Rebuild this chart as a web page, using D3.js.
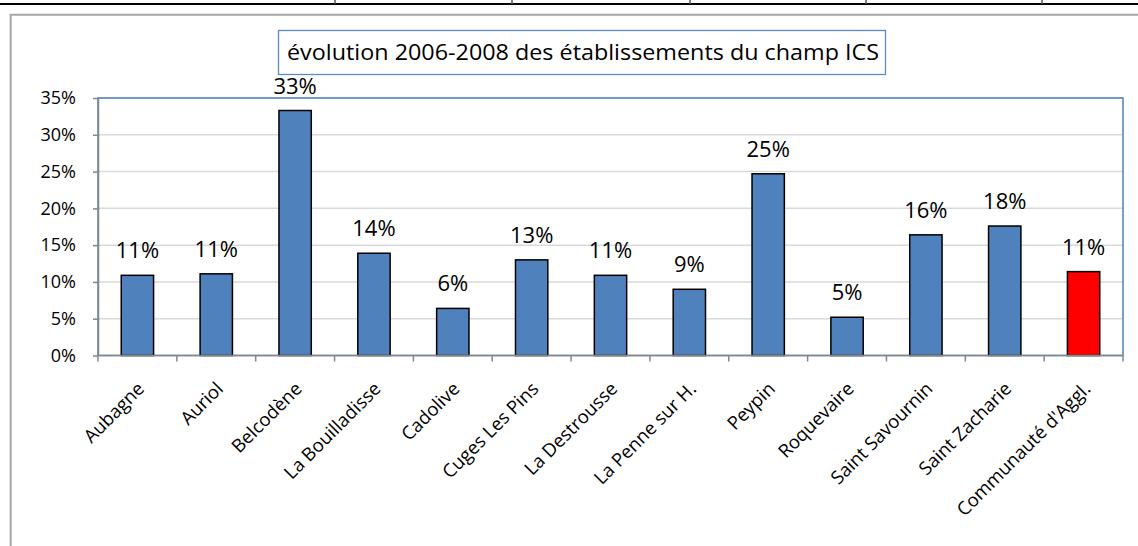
<!DOCTYPE html>
<html>
<head>
<meta charset="utf-8">
<script src="https://cdn.jsdelivr.net/npm/d3@7"></script>
<style>
  body { margin: 0; background: #fff; }
  svg { display: block; font-family: "Open Sans", sans-serif; }
</style>
</head>
<body>
<svg id="drawing_region"></svg>
<script>
// data (percent)
const communes = ["Aubagne", "Auriol", "Belcodène", "La Bouilladisse", "Cadolive", "Cuges Les Pins",
  "La Destrousse", "La Penne sur H.", "Peypin", "Roquevaire", "Saint Savournin", "Saint Zacharie",
  "Communauté d'Aggl."];
const evolution = [10.9, 11.1, 33.3, 13.9, 6.4, 13.0, 10.9, 9.0, 24.7, 5.2, 16.4, 17.6, 11.4];
const yTicks = [0, 5, 10, 15, 20, 25, 30, 35];
const title = "évolution 2006-2008 des établissements du champ ICS";

const config = {
    width: 1138,
    height: 546,
    plot: {left: 98, right: 1123, top: 98, bottom: 355.5}
};

const svg = d3.select('#drawing_region')
    .attr('width', config.width)
    .attr('height', config.height);

// bits of the surrounding table at the top
svg.append('line')
    .attr('x1', 0).attr('x2', config.width)
    .attr('y1', 4).attr('y2', 4)
    .attr('stroke', "#000").attr('stroke-width', 2);
[335, 512, 690, 866, 1042].forEach(x => {
    svg.append('line')
        .attr('x1', x).attr('x2', x)
        .attr('y1', 0).attr('y2', 4)
        .attr('stroke', "#555").attr('stroke-width', 1.5);
});

// chart frame
svg.append('path')
    .attr('d', `M10.7,${config.height} V14.7 H${config.width}`)
    .attr('fill', "none")
    .attr('stroke', "#A6A6A6")
    .attr('stroke-width', 2);

// title box
svg.append('rect')
    .attr('x', 278.5).attr('y', 30.5)
    .attr('width', 607).attr('height', 44)
    .attr('fill', "#fff")
    .attr('stroke', "#5B8AC6")
    .attr('stroke-width', 1.3);
svg.append('text')
    .attr('x', 287).attr('y', 60)
    .style('font-size', "22px")
    .attr('fill', "#000")
    .attr('textLength', 592)
    .attr('lengthAdjust', "spacingAndGlyphs")
    .text(title);

const p = config.plot;

const xscale = d3.scaleBand()
    .domain(communes)
    .range([p.left, p.right]);

const yscale = d3.scaleLinear()
    .domain([0, 35])
    .range([p.bottom, p.top]);

// grid
svg.append('g')
    .selectAll('line')
    .data(yTicks.filter(d => d > 0))
    .join('line')
    .attr('x1', p.left).attr('x2', p.right)
    .attr('y1', d => yscale(d)).attr('y2', d => yscale(d))
    .attr('stroke', "#D9D9D9")
    .attr('stroke-width', 1.5);

// plot area border (blue)
svg.append('rect')
    .attr('x', p.left).attr('y', p.top)
    .attr('width', p.right - p.left)
    .attr('height', p.bottom - p.top)
    .attr('fill', "none")
    .attr('stroke', "#4F81BD")
    .attr('stroke-width', 1.5);

// bars
const barW = xscale.bandwidth() * 0.41;
svg.append('g')
    .selectAll('rect')
    .data(communes)
    .join('rect')
    .attr('x', d => xscale(d) + (xscale.bandwidth() - barW) / 2)
    .attr('y', (d, i) => yscale(evolution[i]))
    .attr('width', barW)
    .attr('height', (d, i) => yscale(0) - yscale(evolution[i]))
    .attr('fill', (d, i) => i === communes.length - 1 ? "#FF0000" : "#4F81BD")
    .attr('stroke', "#000")
    .attr('stroke-width', 1.5);

// data labels
svg.append('g')
    .selectAll('text')
    .data(communes)
    .join('text')
    .attr('x', d => xscale(d) + xscale.bandwidth() / 2)
    .attr('y', (d, i) => yscale(evolution[i]) - 17)
    .attr('text-anchor', "middle")
    .style('font-size', "22px")
    .attr('fill', "#000")
    .text((d, i) => Math.round(evolution[i]) + "%");

// y axis
const yaxis = d3.axisLeft(yscale)
    .tickValues(yTicks)
    .tickFormat(d => d + "%")
    .tickSize(5)
    .tickSizeOuter(0)
    .tickPadding(17);
const yaxis_group = svg.append('g')
    .attr('transform', `translate(${p.left}, 0)`)
    .call(yaxis)
    .attr('font-size', 18)
    .attr('font-family', "Open Sans, sans-serif");
yaxis_group.select('.domain').attr('stroke', "#868686").attr('stroke-width', 1.5);
yaxis_group.selectAll('.tick line').attr('stroke', "#868686").attr('stroke-width', 1.5);
yaxis_group.selectAll('.tick text')
    .style('font-size', "18px")
    .attr('fill', "#000");

// x axis: line, ticks at category edges, rotated labels
const xg = svg.append('g');
xg.append('line')
    .attr('x1', p.left).attr('x2', p.right)
    .attr('y1', p.bottom).attr('y2', p.bottom)
    .attr('stroke', "#868686").attr('stroke-width', 1.5);
xg.selectAll('line.tick')
    .data(communes.map(d => xscale(d)).concat([p.right]))
    .join('line')
    .attr('class', "tick")
    .attr('x1', d => d).attr('x2', d => d)
    .attr('y1', p.bottom).attr('y2', p.bottom + 6)
    .attr('stroke', "#868686").attr('stroke-width', 1.5);
xg.selectAll('text')
    .data(communes)
    .join('text')
    .attr('transform', d => `translate(${xscale(d) + xscale.bandwidth() / 2 + 8}, 390) rotate(-45)`)
    .attr('text-anchor', "end")
    .style('font-size', "18.5px")
    .attr('fill', "#000")
    .text(d => d);
</script>
</body>
</html>
